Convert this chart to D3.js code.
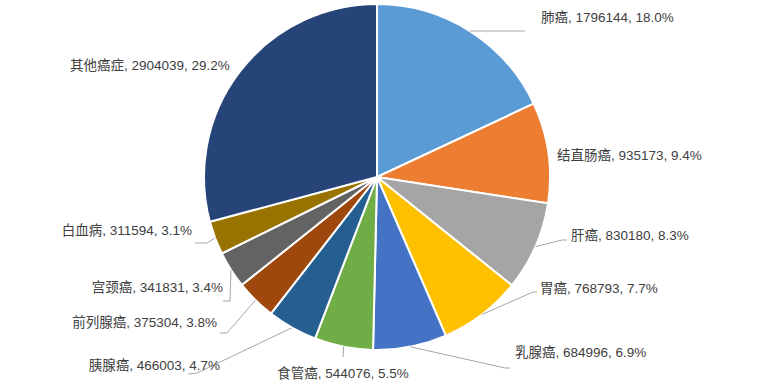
<!DOCTYPE html>
<meta charset="utf-8">
<style>
  body { margin: 0; background: #fff; }
  text { font-family: "Liberation Sans", "Noto Sans CJK SC", sans-serif; font-size: 13.5px; fill: #404040; }
</style>
<svg width="768" height="385"></svg>
<script src="https://cdn.jsdelivr.net/npm/d3@7"></script>
<script>

// data
var categories = ["肺癌", "结直肠癌", "肝癌", "胃癌", "乳腺癌", "食管癌", "胰腺癌", "前列腺癌", "宫颈癌", "白血病", "其他癌症"];
var values = [1796144, 935173, 830180, 768793, 684996, 544076, 466003, 375304, 341831, 311594, 2904039];
var colors = ["#5b9bd5", "#ed7d31", "#a5a5a5", "#ffc000", "#4472c4", "#70ad47", "#255e91", "#9e480e", "#636363", "#997300", "#264478"];

// label layout, relative to the pie centre
var labelPos = [
  {x: 164, y: -160, anchor: "start", line: [[148, -146]]},
  {x: 180, y: -22, anchor: "start", line: null},
  {x: 194, y: 58, anchor: "start", line: [[185, 63], [190, 63]]},
  {x: 163, y: 111, anchor: "start", line: [[156, 115], [160, 115]]},
  {x: 138, y: 175, anchor: "start", line: [[128, 191], [133, 191]]},
  {x: -34, y: 196, anchor: "middle", line: [[-34, 180]]},
  {x: -157, y: 188, anchor: "end", line: [[-180, 196], [-189, 197]]},
  {x: -160, y: 145, anchor: "end", line: [[-150, 156], [-157, 156]]},
  {x: -154, y: 110, anchor: "end", line: [[-147, 124], [-154, 124]]},
  {x: -185, y: 53, anchor: "end", line: [[-170, 66], [-182, 66]]},
  {x: -307, y: -112, anchor: "start", line: null}
];

var svg = d3.select("svg"),
    cx = 377, cy = 177, radius = 173;

var total = d3.sum(values);
var data = categories.map(function(c, i) { return {name: c, value: values[i], i: i}; });

var pie = d3.pie().sort(null).value(function(d) { return d.value; });
var arc = d3.arc().innerRadius(0).outerRadius(radius);
var edge = d3.arc().innerRadius(radius).outerRadius(radius);

var g = svg.append("g").attr("transform", "translate(" + cx + "," + cy + ")");
var arcs = pie(data);

g.selectAll("path.slice")
  .data(arcs)
  .enter().append("path")
    .attr("class", "slice")
    .attr("d", arc)
    .attr("fill", function(d) { return colors[d.data.i]; })
    .attr("stroke", "#fff")
    .attr("stroke-width", 2);

// leader lines
g.selectAll("polyline")
  .data(arcs.filter(function(d) { return labelPos[d.data.i].line; }))
  .enter().append("polyline")
    .attr("points", function(d) {
      var p = edge.centroid(d);
      return [p].concat(labelPos[d.data.i].line).map(function(q) { return q.join(","); }).join(" ");
    })
    .attr("fill", "none")
    .attr("stroke", "#a6a6a6")
    .attr("stroke-width", 1);

g.selectAll("text.lbl")
  .data(arcs)
  .enter().append("text")
    .attr("class", "lbl")
    .attr("x", function(d) { return labelPos[d.data.i].x; })
    .attr("y", function(d) { return labelPos[d.data.i].y; })
    .attr("dy", "0.35em")
    .attr("text-anchor", function(d) { return labelPos[d.data.i].anchor; })
    .text(function(d) {
      return d.data.name + ", " + d.data.value + ", " + (d.data.value / total * 100).toFixed(1) + "%";
    });

</script>
